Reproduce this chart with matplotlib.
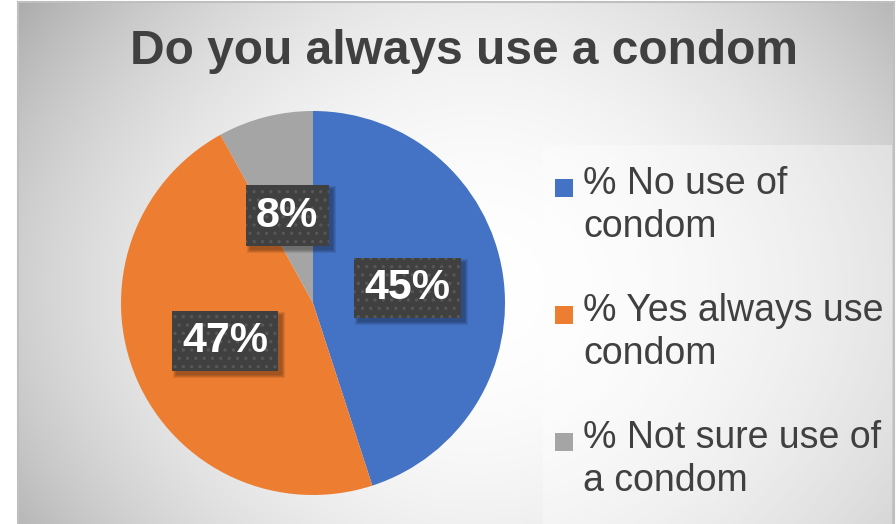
import numpy as np
import matplotlib
matplotlib.use("Agg")
import matplotlib.pyplot as plt
from matplotlib.patches import Rectangle
from matplotlib.transforms import IdentityTransform

plt.rcParams['font.family'] = ['Liberation Sans', 'DejaVu Sans']
plt.rcParams["hatch.linewidth"] = 1.2
plt.rcParams["hatch.color"] = "#575757"

title = "Do you always use a condom"
categories = ["% No use of\ncondom", "% Yes always use\ncondom", "% Not sure use of\na condom"]
values = [45, 47, 8]
colors = ["#4472C4", "#ED7D31", "#A5A5A5"]

W, H = 896, 524
fig = plt.figure(figsize=(W / 100, H / 100), dpi=100)
fig.patch.set_facecolor("white")

# chart area with a soft radial gradient
x0, x1, y0, y1 = 18, 894, 2, 524
bg = fig.add_axes([x0 / W, 0, (x1 - x0) / W, (y1 - y0) / H])
gx = np.linspace(-1, 1, 400)
gy = np.linspace(-1, 1, 240)
XX, YY = np.meshgrid(gx - 0.05, gy + 0.1)
v = 1 - 0.17 * XX ** 2 - 0.07 * YY ** 2 - 0.04 * XX ** 2 * YY ** 2
v = np.clip(v, 0, 1)
bg.imshow(np.dstack([v, v, v]), aspect="auto", extent=(0, 1, 0, 1), origin="lower")
bg.set_xlim(0, 1)
bg.set_ylim(0, 1)
bg.set_xticks([])
bg.set_yticks([])
for s, sp in bg.spines.items():
    sp.set_color("#bfbfbf")
    sp.set_linewidth(1.5)
bg.spines["bottom"].set_visible(False)

fig.text(464 / W, 1 - 52 / H, title, ha="center", va="center",
         fontsize=34.5, fontweight="bold", color="#404040")

# legend panel
leg_l, leg_t = 543, 145
fig.patches.append(Rectangle((leg_l / W, 0), (x1 - 2 - leg_l) / W, (H - leg_t) / H,
                             transform=fig.transFigure, facecolor="white",
                             alpha=0.35, edgecolor="none"))
for i, (lab, col) in enumerate(zip(categories, colors)):
    top = 166 + i * 127
    fig.patches.append(Rectangle((555 / W, 1 - (top + 31) / H), 18 / W, 18 / H,
                                 transform=fig.transFigure, facecolor=col,
                                 edgecolor="none"))
    fig.text(583 / W, 1 - top / H, lab, ha="left", va="top", fontsize=27,
             color="#404040", linespacing=1.24)

# pie, drawn above the background panel
cx, cy, r = 313, 303, 192
ax = fig.add_axes([(cx - r) / W, (H - cy - r) / H, 2 * r / W, 2 * r / H], zorder=3)
wedges, texts, autotexts = ax.pie(
    values, colors=colors, startangle=90, counterclock=False,
    autopct=lambda p: f"{p:.0f}%", pctdistance=0.5, radius=1,
    wedgeprops=dict(linewidth=0),
    textprops=dict(color="white", fontsize=31, fontweight="bold"))
ax.set_xlim(-1, 1)
ax.set_ylim(-1, 1)
ax.set_aspect("equal")

# nudge the small slice label so its box sits inside the pie
xs, ys = autotexts[2].get_position()
autotexts[2].set_position((xs - 0.01, ys - 0.03))

for t in autotexts:
    t.set_zorder(5)
    t.set_ha("center")
    t.set_va("center")
    t.set_bbox(dict(boxstyle="square,pad=0.24", facecolor="#404040",
                    edgecolor="#575757", hatch="..", linewidth=0))

# soft drop shadows behind the label boxes
fig.canvas.draw()
for t in autotexts:
    bb = t.get_bbox_patch().get_window_extent()
    for g in [3, 2, 1, 0]:
        ax.add_patch(Rectangle(
            (bb.x0 + 4 - g, bb.y0 - 4 - g), bb.width + 2 * g, bb.height + 2 * g,
            transform=IdentityTransform(), facecolor="black", alpha=0.09,
            edgecolor="none", zorder=4, clip_on=False))

fig.savefig("out.png", dpi=100)
